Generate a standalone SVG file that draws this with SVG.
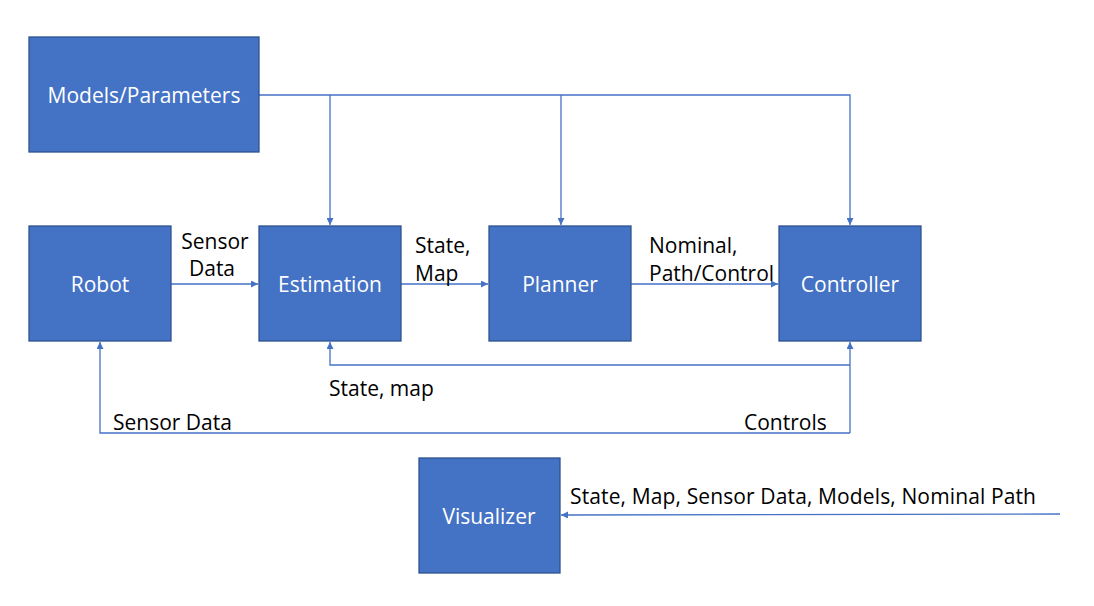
<svg xmlns="http://www.w3.org/2000/svg" width="1094" height="606" viewBox="0 0 1094 606">
<style>
.box{fill:#4472C4;stroke:#2F528F;stroke-width:1.3}
.bt{fill:#fff;font-family:"Open Sans","Liberation Sans",sans-serif;font-size:21px;text-anchor:middle}
.lt{fill:#000;font-family:"Open Sans","Liberation Sans",sans-serif;font-size:21px}
.c{fill:none;stroke:#4472C4;stroke-width:1.3}
</style>
<defs>
<marker id="ah" viewBox="0 0 10 10" refX="10" refY="5" markerWidth="7" markerHeight="7" markerUnits="userSpaceOnUse" orient="auto"><path d="M0,0L10,5L0,10z" fill="#4472C4"/></marker>
</defs>
<rect width="1094" height="606" fill="#fff"/>
<g id="connectors">
<path class="c" d="M259,95H850V225" marker-end="url(#ah)"/>
<path class="c" d="M330,95V225" marker-end="url(#ah)"/>
<path class="c" d="M561,95V225" marker-end="url(#ah)"/>
<path class="c" d="M171,284H258" marker-end="url(#ah)"/>
<path class="c" d="M401,284H488" marker-end="url(#ah)"/>
<path class="c" d="M631,284H778" marker-end="url(#ah)"/>
<path class="c" d="M850,365H330V342" marker-end="url(#ah)"/>
<path class="c" d="M850,433V342" marker-end="url(#ah)"/>
<path class="c" d="M850,433H100V342" marker-end="url(#ah)"/>
<path class="c" d="M1060,514L561,515" marker-end="url(#ah)"/>
<text class="lt" x="215" y="249" text-anchor="middle">Sensor</text>
<text class="lt" x="212" y="276" text-anchor="middle">Data</text>
<text class="lt" x="415" y="253">State,</text>
<text class="lt" x="415" y="281">Map</text>
<text class="lt" x="649" y="253">Nominal,</text>
<text class="lt" x="649" y="281">Path/Control</text>
<text class="lt" x="329" y="396">State, map</text>
<text class="lt" x="113" y="430">Sensor Data</text>
<text class="lt" x="744" y="430">Controls</text>
<text class="lt" x="570" y="504" textLength="466">State, Map, Sensor Data, Models, Nominal Path</text>
</g>
<g id="models"><rect class="box" x="29" y="37" width="230" height="115"/><text class="bt" x="144" y="103">Models/Parameters</text></g>
<g id="robot"><rect class="box" x="29" y="226" width="142" height="115"/><text class="bt" x="100" y="292">Robot</text></g>
<g id="estimation"><rect class="box" x="259" y="226" width="142" height="115"/><text class="bt" x="330" y="292">Estimation</text></g>
<g id="planner"><rect class="box" x="489" y="226" width="142" height="115"/><text class="bt" x="560" y="292">Planner</text></g>
<g id="controller"><rect class="box" x="779" y="226" width="142" height="115"/><text class="bt" x="850" y="292">Controller</text></g>
<g id="visualizer"><rect class="box" x="419" y="458" width="141" height="115"/><text class="bt" x="489" y="524">Visualizer</text></g>
</svg>
